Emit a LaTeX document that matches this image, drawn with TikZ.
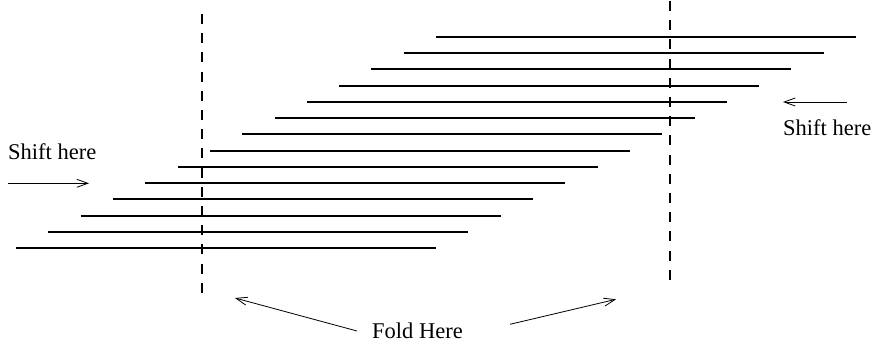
\documentclass[tikz,border=0pt]{standalone}
\usepackage{fontspec}
\setmainfont{Liberation Serif}
\usetikzlibrary{arrows.meta}
\begin{document}
\begin{tikzpicture}[x=1pt,y=-1pt,
  strip/.style={line width=1.8pt},
  foldline/.style={line width=1.6pt, dash pattern=on 10pt off 9.2pt},
  pointer/.style={line width=0.8pt, -{Straight Barb[length=11pt,width=8pt,line width=0.8pt]}},
  label/.style={inner sep=0pt, anchor=base west, font=\fontsize{22.5pt}{27pt}\selectfont}]
\useasboundingbox (0,0) rectangle (874,345);
\foreach \i in {0,...,13}{
  \pgfmathsetmacro{\yy}{round(36.7+16.27*\i)}
  \draw[strip] ({436-32.3*\i},\yy) -- ({856-32.3*\i},\yy);
}
\coordinate (f1t) at (202,14);
\coordinate (f1b) at (202,298);
\coordinate (f2t) at (670,1);
\coordinate (f2b) at (670,288);
\draw[foldline] (f1t) -- (f1b);
\draw[foldline] (f2t) -- (f2b);
\node[label] (sl) at (8,159) {Shift here};
\node[label] (sr) at (783,135) {Shift here};
\node[label] (fh) at (372,338) {Fold Here};
\coordinate (sla) at (8,183.3);
\coordinate (slb) at (89,183.3);
\coordinate (sra) at (847,102);
\coordinate (srb) at (783,102);
\coordinate (fla) at (357,331);
\coordinate (flb) at (235,298);
\coordinate (fra) at (510,324.3);
\coordinate (frb) at (616,299.3);
\draw[pointer] (sla) -- (slb);
\draw[pointer] (sra) -- (srb);
\draw[pointer] (fla) -- (flb);
\draw[pointer] (fra) -- (frb);
\end{tikzpicture}
\end{document}
